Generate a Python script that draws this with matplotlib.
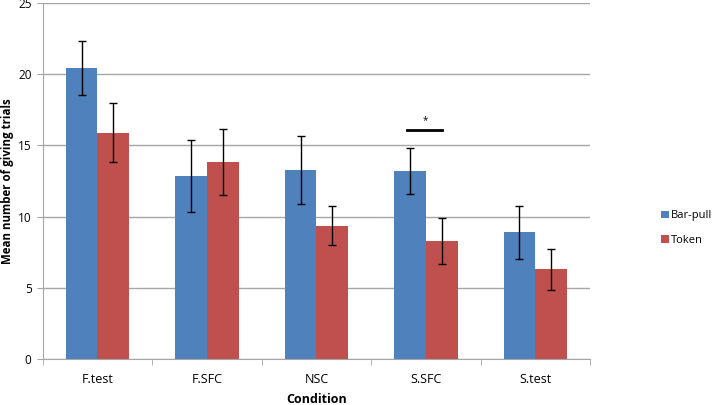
import matplotlib.pyplot as plt
import numpy as np

conditions = ['F.test', 'F.SFC', 'NSC', 'S.SFC', 'S.test']
bar_pull = [20.45, 12.85, 13.25, 13.2, 8.9]
bar_pull_err = [1.9, 2.5, 2.4, 1.6, 1.85]
token = [15.9, 13.85, 9.35, 8.3, 6.3]
token_err = [2.1, 2.3, 1.37, 1.6, 1.43]

blue = '#4F81BD'
red = '#C0504D'
grid_c = '#A6A6A6'

fig = plt.figure(figsize=(7.17, 4.05), dpi=100)
ax = fig.add_axes([0.0595, 0.1136, 0.7635, 0.879])

x = np.arange(len(conditions))
w = 0.29
ax.bar(x - w / 2, bar_pull, w, color=blue, label='Bar-pull', zorder=2)
ax.bar(x + w / 2, token, w, color=red, label='Token', zorder=2)
ax.errorbar(x - w / 2, bar_pull, yerr=bar_pull_err, fmt='none', ecolor='black',
            elinewidth=1, capsize=3, capthick=1, zorder=3)
ax.errorbar(x + w / 2, token, yerr=token_err, fmt='none', ecolor='black',
            elinewidth=1, capsize=3, capthick=1, zorder=3)

# significance marker over S.SFC
ax.plot([3 - 0.17, 3 + 0.15], [16.05, 16.05], color='black', lw=2, zorder=3)
ax.text(3 - 0.01, 16.35, '*', ha='center', va='bottom', fontsize=7, family='Open Sans')

ax.set_xlim(-0.5, 4.5)
ax.set_ylim(0, 25)
ax.set_yticks([0, 5, 10, 15, 20, 25])
ax.yaxis.grid(True, color=grid_c, lw=1, zorder=0)
ax.set_axisbelow(True)

ax.set_xticks(x)
ax.set_xticklabels(conditions, family='Open Sans', fontsize=9)
ax.set_xticks(np.arange(-0.5, 5.0, 1), minor=True)
ax.tick_params(axis='x', which='major', length=0, pad=10)
ax.tick_params(axis='x', which='minor', length=4, color=grid_c, direction='out')
ax.tick_params(axis='y', length=4, color=grid_c, direction='out', labelsize=8.5, pad=4)
for lbl in ax.get_yticklabels():
    lbl.set_family('Open Sans')

for side in ['top', 'right']:
    ax.spines[side].set_visible(False)
ax.spines['left'].set_color(grid_c)
ax.spines['bottom'].set_color(grid_c)

ax.set_xlabel('Condition', family='Open Sans', fontweight='bold', fontsize=9, labelpad=5)
fig.text(0.011, 0.552, 'Mean number of giving trials', family='Open Sans',
         fontweight='bold', fontsize=8.3, rotation=90, ha='center', va='center')

ax.legend(loc='center left', bbox_to_anchor=(1.112, 0.368), frameon=False,
          handlelength=0.7, handleheight=0.7, handletextpad=0.15, labelspacing=1.2,
          prop={'family': 'Open Sans', 'size': 8})

fig.savefig('out.png', dpi=100)
